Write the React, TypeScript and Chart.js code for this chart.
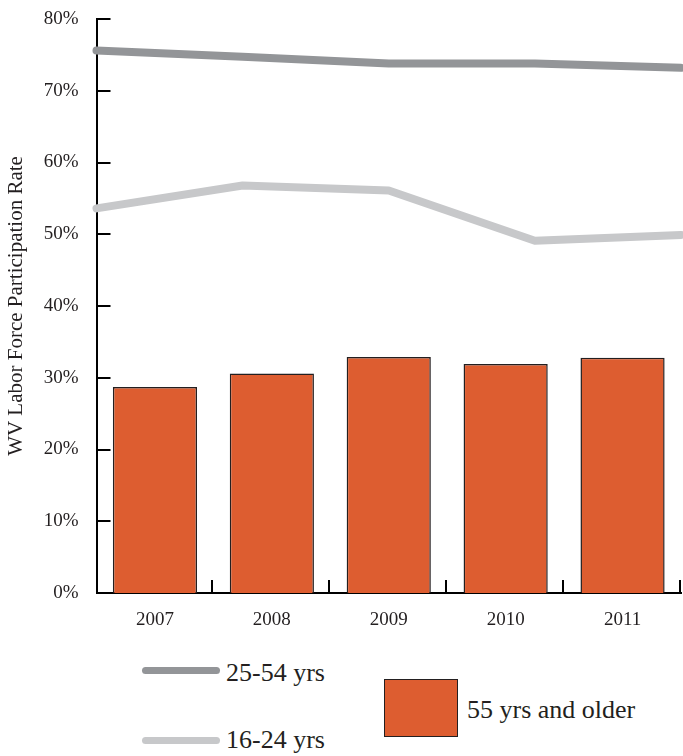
import React, { useEffect, useRef } from "react";
import { Chart, registerables } from "chart.js";

Chart.register(...registerables);

// Years shown on the category axis
const years = ["2007", "2008", "2009", "2010", "2011"];

// Labor force participation rate (%) by age group
const prime2554 = [75.6, 74.75, 73.8, 73.8, 73.2];
const youth1624 = [53.6, 56.8, 56.1, 49.1, 49.9];
const older55 = [28.7, 30.6, 32.9, 31.9, 32.8];

const yTicks = [0, 10, 20, 30, 40, 50, 60, 70, 80];

const SERIF = "'Liberation Serif', 'Times New Roman', serif";
const INK = "#231F20";
const ORANGE = "#DD5D30";
const DARK_GRAY = "#939598";
const LIGHT_GRAY = "#C7C8CA";

// Inward-facing tick marks on both axes
const axisTicks = {
  id: "axisTicks",
  beforeDatasetsDraw(chart: any) {
    const { ctx, chartArea, scales } = chart;
    const ys = scales.y;
    const xs = scales.x;
    ctx.save();
    ctx.strokeStyle = "#000";
    ctx.lineWidth = 2;
    ctx.lineCap = "butt";
    yTicks.forEach((v) => {
      if (v === 0) return;
      const y = Math.round(ys.getPixelForValue(v));
      ctx.beginPath();
      ctx.moveTo(chartArea.left, y);
      ctx.lineTo(chartArea.left + 14, y);
      ctx.stroke();
    });
    const step = xs.getPixelForValue(1) - xs.getPixelForValue(0);
    years.forEach((_, i) => {
      const x = Math.round(xs.getPixelForValue(i) + step / 2) - 1;
      ctx.beginPath();
      ctx.moveTo(x, chartArea.bottom);
      ctx.lineTo(x, chartArea.bottom - 13);
      ctx.stroke();
    });
    ctx.restore();
  },
};

function ParticipationChart() {
  const ref = useRef<HTMLCanvasElement | null>(null);

  useEffect(() => {
    if (!ref.current) return;
    const chart = new Chart(ref.current, {
      type: "bar",
      data: {
        labels: years,
        datasets: [
          {
            type: "line",
            label: "25-54 yrs",
            data: prime2554.map((v, i) => ({ x: i, y: v })),
            xAxisID: "x2",
            borderColor: DARK_GRAY,
            borderWidth: 8,
            borderCapStyle: "round",
            borderJoinStyle: "round",
            pointRadius: 0,
            tension: 0,
            clip: false,
          } as any,
          {
            type: "line",
            label: "16-24 yrs",
            data: youth1624.map((v, i) => ({ x: i, y: v })),
            xAxisID: "x2",
            borderColor: LIGHT_GRAY,
            borderWidth: 8,
            borderCapStyle: "round",
            borderJoinStyle: "round",
            pointRadius: 0,
            tension: 0,
            clip: false,
          } as any,
          {
            type: "bar",
            label: "55 yrs and older",
            data: older55,
            xAxisID: "x",
            backgroundColor: ORANGE,
            borderColor: INK,
            borderWidth: 1.5,
            grouped: false,
            barPercentage: 0.72,
            categoryPercentage: 1,
          } as any,
        ],
      },
      options: {
        responsive: false,
        animation: false,
        devicePixelRatio: 1,
        layout: { padding: { top: 19, right: 2, left: 0, bottom: 0 } },
        plugins: {
          legend: { display: false },
          tooltip: { enabled: false },
        },
        scales: {
          x: {
            type: "category",
            offset: true,
            grid: { display: false, drawTicks: false },
            border: { display: true, color: "#000", width: 2 },
            ticks: {
              color: INK,
              padding: 16,
              font: { family: SERIF, size: 19 },
            },
            afterFit: (s: any) => {
              s.height = 47;
              s.paddingLeft = 0;
              s.paddingRight = 0;
            },
          },
          x2: {
            type: "linear",
            display: false,
            min: 0,
            max: years.length - 1,
            offset: false,
          },
          y: {
            min: 0,
            max: 80,
            grid: { display: false, drawTicks: false },
            border: { display: true, color: "#000", width: 2 },
            afterBuildTicks: (s: any) => {
              s.ticks = yTicks.map((v) => ({ value: v }));
            },
            ticks: {
              color: INK,
              padding: 18,
              font: { family: SERIF, size: 19 },
              callback: (v: any) => `${v}%`,
            },
            title: {
              display: true,
              text: "WV Labor Force Participation Rate",
              color: INK,
              font: { family: SERIF, size: 21 },
              padding: { top: 4, bottom: 2 },
            },
            afterFit: (s: any) => {
              s.width = 96.5;
              s.paddingTop = 0;
              s.paddingBottom = 0;
            },
          },
        },
      },
      plugins: [axisTicks],
    });
    return () => chart.destroy();
  }, []);

  return (
    <canvas
      ref={ref}
      width={683}
      height={640}
      style={{ display: "block", width: 683, height: 640 }}
    />
  );
}

const legendText: React.CSSProperties = {
  position: "absolute",
  fontFamily: SERIF,
  fontSize: 26,
  lineHeight: "26px",
  color: INK,
  whiteSpace: "nowrap",
};

const swatch: React.CSSProperties = {
  position: "absolute",
  left: 142,
  width: 78,
  height: 7,
  borderRadius: 3.5,
};

export default function App() {
  return (
    <div
      style={{
        position: "absolute",
        left: 0,
        top: 0,
        width: 683,
        height: 756,
        background: "#fff",
        overflow: "hidden",
      }}
    >
      <ParticipationChart />
      <div style={{ ...swatch, top: 666.5, background: DARK_GRAY }} />
      <div style={{ ...legendText, left: 226, top: 660 }}>25-54 yrs</div>
      <div style={{ ...swatch, top: 736.5, background: LIGHT_GRAY }} />
      <div style={{ ...legendText, left: 226, top: 726.5 }}>16-24 yrs</div>
      <div
        style={{
          position: "absolute",
          left: 384,
          top: 679,
          width: 74,
          height: 58,
          boxSizing: "border-box",
          border: `1.5px solid ${INK}`,
          background: ORANGE,
        }}
      />
      <div style={{ ...legendText, left: 467, top: 696.5 }}>55 yrs and older</div>
    </div>
  );
}
